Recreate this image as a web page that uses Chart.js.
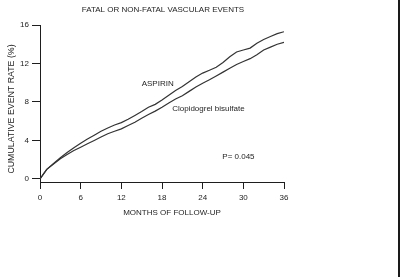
<!DOCTYPE html>
<html>
<head>
<meta charset="utf-8">
<script src="https://cdn.jsdelivr.net/npm/chart.js@4/dist/chart.umd.min.js"></script>
<style>
  html, body { margin: 0; padding: 0; background: #fff; }
  #wrap { width: 400px; height: 277px; box-sizing: border-box; border-right: 2px solid #1a1a1a; }
  canvas { display: block; }
</style>
</head>
<body>
<div id="wrap"><canvas id="chart" width="398" height="277"></canvas></div>
<script>
const months = [0, 0.5, 1, 2, 3, 4, 5, 6, 7, 8, 9, 10, 11, 12, 13, 14, 15, 16, 17, 18,
                19, 20, 21, 22, 23, 24, 25, 26, 27, 28, 29, 30, 31, 32, 33, 34, 35, 36];
const aspirin = [0, 0.5, 1.0, 1.6, 2.2, 2.75, 3.25, 3.7, 4.15, 4.55, 4.95, 5.3, 5.6, 5.85, 6.2, 6.6, 7.0, 7.45, 7.75, 8.2,
                 8.7, 9.2, 9.6, 10.1, 10.6, 11.0, 11.3, 11.6, 12.1, 12.7, 13.2, 13.4, 13.6, 14.1, 14.5, 14.8, 15.1, 15.3];
const clopidogrel = [0, 0.5, 1.0, 1.55, 2.1, 2.55, 2.95, 3.3, 3.65, 4.0, 4.35, 4.7, 4.95, 5.2, 5.55, 5.9, 6.3, 6.7, 7.05, 7.45,
                     7.9, 8.3, 8.65, 9.1, 9.55, 9.95, 10.3, 10.7, 11.1, 11.5, 11.9, 12.2, 12.5, 12.9, 13.4, 13.7, 14.0, 14.2];
const xTicks = [0, 6, 12, 18, 24, 30, 36];
const yTicks = [0, 4, 8, 12, 16];
const chartTitle = 'FATAL OR NON-FATAL VASCULAR EVENTS';
const xTitle = 'MONTHS OF FOLLOW-UP';
const yTitle = 'CUMULATIVE EVENT RATE (%)';
const notes = [
    { text: 'ASPIRIN', x: 15.0, y: 9.9 },
    { text: 'Clopidogrel bisulfate', x: 19.5, y: 7.3 },
    { text: 'P= 0.045', x: 26.9, y: 2.3 }
];

const FONT = 'Liberation Sans, Arial, sans-serif';
const INK = '#1e1e1e';

const textPlugin = {
    id: 'texts',
    afterDraw(chart) {
        const ctx = chart.ctx;
        const xs = chart.scales.x, ys = chart.scales.y;
        ctx.save();
        ctx.fillStyle = INK;
        ctx.textBaseline = 'middle';
        ctx.font = '8px ' + FONT;
        ctx.textAlign = 'center';
        ctx.fillText(chartTitle, 163, 10);
        ctx.fillText(xTitle, (xs.left + xs.right) / 2 + 10, 213);
        ctx.save();
        ctx.translate(12, 109);
        ctx.rotate(-Math.PI / 2);
        ctx.font = '8.8px ' + FONT;
        ctx.fillText(yTitle, 0, 0);
        ctx.restore();
        ctx.textAlign = 'left';
        notes.forEach(n => {
            ctx.fillText(n.text, xs.getPixelForValue(n.x), ys.getPixelForValue(n.y));
        });
        ctx.restore();
    }
};

const lineStyle = { borderColor: '#333', borderWidth: 1.2, pointRadius: 0, tension: 0, fill: false };

new Chart(document.getElementById('chart').getContext('2d'), {
    type: 'line',
    data: {
        datasets: [
            Object.assign({ label: 'ASPIRIN', data: months.map((m, i) => ({ x: m, y: aspirin[i] })) }, lineStyle),
            Object.assign({ label: 'Clopidogrel bisulfate', data: months.map((m, i) => ({ x: m, y: clopidogrel[i] })) }, lineStyle)
        ]
    },
    options: {
        responsive: false,
        animation: false,
        devicePixelRatio: 1,
        layout: { padding: { left: 0, right: 114, top: 25, bottom: 0 } },
        plugins: { legend: { display: false }, tooltip: { enabled: false }, title: { display: false } },
        scales: {
            x: {
                type: 'linear',
                min: 0, max: 36,
                afterBuildTicks: s => { s.ticks = xTicks.map(v => ({ value: v })); },
                afterFit: s => { s.height = 95; },
                border: { display: true, color: INK, width: 1 },
                grid: { drawOnChartArea: false, drawTicks: true, tickLength: 7, color: INK },
                ticks: { color: INK, font: { family: FONT, size: 8 }, padding: 4, maxRotation: 0 }
            },
            y: {
                min: -0.32, max: 16,
                afterBuildTicks: s => { s.ticks = yTicks.map(v => ({ value: v })); },
                afterFit: s => { s.width = 40; },
                border: { display: true, color: INK, width: 1 },
                grid: { drawOnChartArea: false, drawTicks: true, tickLength: 8, color: INK },
                ticks: { color: INK, font: { family: FONT, size: 8 }, padding: 3 }
            }
        }
    },
    plugins: [textPlugin]
});
</script>
</body>
</html>
